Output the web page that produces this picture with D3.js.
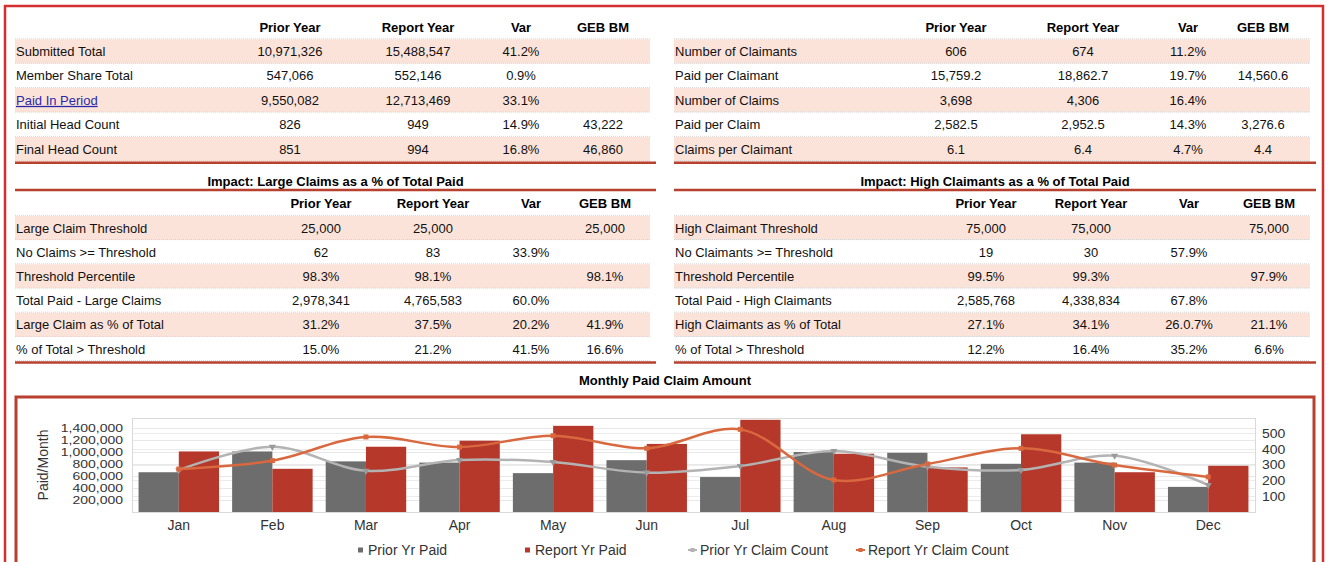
<!DOCTYPE html>
<html>
<head>
<meta charset="utf-8">
<script src="https://cdn.jsdelivr.net/npm/d3@7"></script>
<style>
  body { margin: 0; background: #fff; }
  svg { font-family: "Liberation Sans", Arial, sans-serif; display: block; }
</style>
</head>
<body>
<div id="chart"></div>
<script>
// ---- data ----
var tableHeaders = ['Prior Year', 'Report Year', 'Var', 'GEB BM'];

var summaryRows = [
    ['Submitted Total', '10,971,326', '15,488,547', '41.2%', ''],
    ['Member Share Total', '547,066', '552,146', '0.9%', ''],
    ['Paid In Period', '9,550,082', '12,713,469', '33.1%', ''],
    ['Initial Head Count', '826', '949', '14.9%', '43,222'],
    ['Final Head Count', '851', '994', '16.8%', '46,860']
];

var claimantRows = [
    ['Number of Claimants', '606', '674', '11.2%', ''],
    ['Paid per Claimant', '15,759.2', '18,862.7', '19.7%', '14,560.6'],
    ['Number of Claims', '3,698', '4,306', '16.4%', ''],
    ['Paid per Claim', '2,582.5', '2,952.5', '14.3%', '3,276.6'],
    ['Claims per Claimant', '6.1', '6.4', '4.7%', '4.4']
];

var largeClaimRows = [
    ['Large Claim Threshold', '25,000', '25,000', '', '25,000'],
    ['No Claims >= Threshold', '62', '83', '33.9%', ''],
    ['Threshold Percentile', '98.3%', '98.1%', '', '98.1%'],
    ['Total Paid - Large Claims', '2,978,341', '4,765,583', '60.0%', ''],
    ['Large Claim as % of Total', '31.2%', '37.5%', '20.2%', '41.9%'],
    ['% of Total > Threshold', '15.0%', '21.2%', '41.5%', '16.6%']
];

var highClaimantRows = [
    ['High Claimant Threshold', '75,000', '75,000', '', '75,000'],
    ['No Claimants >= Threshold', '19', '30', '57.9%', ''],
    ['Threshold Percentile', '99.5%', '99.3%', '', '97.9%'],
    ['Total Paid - High Claimants', '2,585,768', '4,338,834', '67.8%', ''],
    ['High Claimants as % of Total', '27.1%', '34.1%', '26.0.7%', '21.1%'],
    ['% of Total > Threshold', '12.2%', '16.4%', '35.2%', '6.6%']
];

var months = ['Jan', 'Feb', 'Mar', 'Apr', 'May', 'Jun', 'Jul', 'Aug', 'Sep', 'Oct', 'Nov', 'Dec'];
var priorPaid = [660000, 1005000, 840000, 820000, 645000, 860000, 580000, 995000, 983000, 800000, 820000, 417000];
var reportPaid = [1005000, 717000, 1083000, 1183000, 1430000, 1130000, 1530000, 967000, 740000, 1290000, 660000, 767000];
var priorCount = [265, 413, 261, 329, 316, 249, 291, 386, 287, 266, 356, 171];
var reportCount = [272, 325, 475, 411, 483, 403, 523, 203, 304, 403, 297, 222];
var paidTicks = [200000, 400000, 600000, 800000, 1000000, 1200000, 1400000];
var countTicks = [100, 200, 300, 400, 500];
var legendLabels = ['Prior Yr Paid', 'Report Yr Paid', 'Prior Yr Claim Count', 'Report Yr Claim Count'];

// ---- colours ----
var pink = '#fce3da',
    tableRed = '#b8402f',
    borderRed = '#d32f2f',
    barGrey = '#6d6d6d',
    barRed = '#b5382a',
    lineGrey = '#b3b3b3',
    lineOrange = '#d9683f';

var svg = d3.select('#chart').append('svg')
    .attr('width', 1330)
    .attr('height', 562);

// outer frame
svg.append('rect')
    .attr('x', 5).attr('y', 6)
    .attr('width', 1318).attr('height', 620)
    .attr('fill', 'none')
    .attr('stroke', borderRed)
    .attr('stroke-width', 2.5);

// draws one striped table
function drawTable(opt) {
    var g = svg.append('g');
    var rowH = opt.rowH;

    // stripes
    g.selectAll('rect.stripe')
        .data(opt.rows)
        .enter().append('rect')
        .attr('x', opt.x0)
        .attr('y', function (d, i) { return opt.rowY + i * rowH - rowH / 2; })
        .attr('width', opt.x1 - opt.x0)
        .attr('height', rowH)
        .attr('fill', function (d, i) { return i % 2 === 0 ? pink : '#fff'; });

    // dotted separators
    g.selectAll('line.sep')
        .data(d3.range(opt.rows.length + 1))
        .enter().append('line')
        .attr('x1', opt.x0).attr('x2', opt.x1)
        .attr('y1', function (i) { return opt.rowY + i * rowH - rowH / 2 - 0.5; })
        .attr('y2', function (i) { return opt.rowY + i * rowH - rowH / 2 - 0.5; })
        .attr('stroke', '#d6d6d6')
        .attr('stroke-dasharray', '1,1');

    // title
    if (opt.title) {
        g.append('text')
            .attr('x', (opt.x0 + opt.lineX1) / 2)
            .attr('y', opt.titleY)
            .attr('dy', '0.35em')
            .attr('text-anchor', 'middle')
            .style('font-size', '13px')
            .style('font-weight', 'bold')
            .text(opt.title);
        g.append('line')
            .attr('x1', opt.x0).attr('x2', opt.lineX1)
            .attr('y1', opt.titleY + 9).attr('y2', opt.titleY + 9)
            .attr('stroke', tableRed).attr('stroke-width', 2.5);
    }

    // header
    g.selectAll('text.head')
        .data(tableHeaders)
        .enter().append('text')
        .attr('x', function (d, i) { return opt.cols[i]; })
        .attr('y', opt.headY)
        .attr('dy', '0.35em')
        .attr('text-anchor', 'middle')
        .style('font-size', '13px')
        .style('font-weight', 'bold')
        .text(function (d) { return d; });

    // rows
    var row = g.selectAll('g.row')
        .data(opt.rows)
        .enter().append('g')
        .attr('transform', function (d, i) { return 'translate(0,' + (opt.rowY + i * rowH) + ')'; });

    row.append('text')
        .attr('x', opt.x0 + 1)
        .attr('dy', '0.35em')
        .style('font-size', '13px')
        .attr('fill', function (d) { return d[0] === opt.link ? '#2a2aa8' : '#111'; })
        .attr('text-decoration', function (d) { return d[0] === opt.link ? 'underline' : null; })
        .text(function (d) { return d[0]; });

    row.selectAll('text.val')
        .data(function (d) { return d.slice(1); })
        .enter().append('text')
        .attr('x', function (d, i) { return opt.cols[i]; })
        .attr('dy', '0.35em')
        .attr('text-anchor', 'middle')
        .style('font-size', '13px')
        .attr('fill', '#111')
        .text(function (d) { return d; });

    // bottom rule
    var yb = opt.rowY + opt.rows.length * rowH - rowH / 2 + 1.5;
    g.append('line')
        .attr('x1', opt.x0).attr('x2', opt.lineX1)
        .attr('y1', yb).attr('y2', yb)
        .attr('stroke', tableRed).attr('stroke-width', 2.5);
}

drawTable({x0: 15, x1: 650, lineX1: 656, cols: [290, 418, 521, 603],
    headY: 27, rowY: 51.5, rowH: 24.4, rows: summaryRows, link: 'Paid In Period'});
drawTable({x0: 674, x1: 1310, lineX1: 1316, cols: [956, 1083, 1188, 1263],
    headY: 27, rowY: 51.5, rowH: 24.4, rows: claimantRows});
drawTable({x0: 15, x1: 650, lineX1: 656, cols: [321, 433, 531, 605],
    title: 'Impact: Large Claims as a % of Total Paid', titleY: 181,
    headY: 203, rowY: 228, rowH: 24.2, rows: largeClaimRows});
drawTable({x0: 674, x1: 1310, lineX1: 1316, cols: [986, 1091, 1189, 1269],
    title: 'Impact: High Claimants as a % of Total Paid', titleY: 181,
    headY: 203, rowY: 228, rowH: 24.2, rows: highClaimantRows});

// ---- chart ----
svg.append('text')
    .attr('x', 665).attr('y', 380)
    .attr('dy', '0.35em')
    .attr('text-anchor', 'middle')
    .style('font-size', '13px')
    .style('font-weight', 'bold')
    .text('Monthly Paid Claim Amount');

svg.append('rect')
    .attr('x', 16).attr('y', 397)
    .attr('width', 1298).attr('height', 220)
    .attr('fill', 'none')
    .attr('stroke', tableRed)
    .attr('stroke-width', 3);

var plot = {left: 132, right: 1255, top: 418, bottom: 512};

var x = d3.scaleBand().domain(months).range([plot.left, plot.right]).paddingInner(0.14).paddingOuter(0.07);
var xSub = d3.scaleBand().domain(['prior', 'report']).range([0, x.bandwidth()]);
var yPaid = d3.scaleLinear().domain([0, 1560000]).range([plot.bottom, plot.top]);
var yCount = d3.scaleLinear().domain([0, 595]).range([plot.bottom, plot.top]);

// gridlines
var grid = svg.append('g');
grid.selectAll('line.gl')
    .data(paidTicks)
    .enter().append('line')
    .attr('x1', plot.left).attr('x2', plot.right)
    .attr('y1', function (d) { return Math.round(yPaid(d)) + 0.5; })
    .attr('y2', function (d) { return Math.round(yPaid(d)) + 0.5; })
    .attr('stroke', '#e8e8e8');
grid.selectAll('line.gr')
    .data(countTicks)
    .enter().append('line')
    .attr('x1', plot.left).attr('x2', plot.right)
    .attr('y1', function (d) { return Math.round(yCount(d)) + 0.5; })
    .attr('y2', function (d) { return Math.round(yCount(d)) + 0.5; })
    .attr('stroke', '#ececec');

svg.append('rect')
    .attr('x', plot.left + 0.5).attr('y', plot.top + 0.5)
    .attr('width', plot.right - plot.left).attr('height', plot.bottom - plot.top)
    .attr('fill', 'none')
    .attr('stroke', '#d9d9d9');

// bars
var monthG = svg.selectAll('g.month')
    .data(months)
    .enter().append('g')
    .attr('transform', function (d) { return 'translate(' + x(d) + ',0)'; });

monthG.append('rect')
    .attr('x', xSub('prior'))
    .attr('y', function (d, i) { return yPaid(priorPaid[i]); })
    .attr('width', xSub.bandwidth())
    .attr('height', function (d, i) { return yPaid(0) - yPaid(priorPaid[i]); })
    .attr('fill', barGrey);

monthG.append('rect')
    .attr('x', xSub('report'))
    .attr('y', function (d, i) { return yPaid(reportPaid[i]); })
    .attr('width', xSub.bandwidth())
    .attr('height', function (d, i) { return yPaid(0) - yPaid(reportPaid[i]); })
    .attr('fill', barRed);

// claim count lines
function cx(i) { return x(months[i]) + x.bandwidth() / 2; }

var countLine = d3.line()
    .x(function (d, i) { return cx(i); })
    .y(function (d) { return yCount(d); })
    .curve(d3.curveCatmullRom.alpha(0.5));

svg.append('path')
    .datum(priorCount)
    .attr('d', countLine)
    .attr('fill', 'none')
    .attr('stroke', lineGrey)
    .attr('stroke-width', 2.5);

svg.append('path')
    .datum(reportCount)
    .attr('d', countLine)
    .attr('fill', 'none')
    .attr('stroke', lineOrange)
    .attr('stroke-width', 2.5);

svg.selectAll('path.tri')
    .data(priorCount)
    .enter().append('path')
    .attr('d', d3.symbol().type(d3.symbolTriangle).size(22))
    .attr('transform', function (d, i) { return 'translate(' + cx(i) + ',' + yCount(d) + ') rotate(180)'; })
    .attr('fill', '#9a9a9a');

svg.selectAll('rect.sq')
    .data(reportCount)
    .enter().append('rect')
    .attr('x', function (d, i) { return cx(i) - 2.5; })
    .attr('y', function (d) { return yCount(d) - 2.5; })
    .attr('width', 5).attr('height', 5)
    .attr('fill', lineOrange);

// axes
var leftAxis = svg.append('g')
    .attr('transform', 'translate(' + plot.left + ',0)')
    .call(d3.axisLeft(yPaid).tickValues(paidTicks).tickSize(0).tickPadding(9).tickFormat(d3.format(',')));
leftAxis.select('.domain').remove();
// labels are squeezed vertically in the original so they just fit the 200k spacing
leftAxis.selectAll('text')
    .style('font-size', '14px')
    .attr('fill', '#333')
    .attr('font-family', null)
    .attr('dy', '0.36em')
    .attr('transform', 'scale(1,0.72)');

var rightAxis = svg.append('g')
    .attr('transform', 'translate(' + plot.right + ',0)')
    .call(d3.axisRight(yCount).tickValues(countTicks).tickSize(0).tickPadding(7));
rightAxis.select('.domain').remove();
rightAxis.selectAll('text')
    .style('font-size', '14px')
    .attr('fill', '#333')
    .attr('font-family', null)
    .attr('dy', '0.36em')
    .attr('transform', 'scale(1,0.85)');

var bottomAxis = svg.append('g')
    .attr('transform', 'translate(0,' + plot.bottom + ')')
    .call(d3.axisBottom(x).tickSize(0).tickPadding(8));
bottomAxis.select('.domain').remove();
bottomAxis.selectAll('text').style('font-size', '14px').attr('fill', '#333').attr('font-family', null);

svg.append('text')
    .attr('transform', 'translate(48,' + ((plot.top + plot.bottom) / 2) + ') rotate(-90)')
    .attr('text-anchor', 'middle')
    .style('font-size', '14px')
    .attr('fill', '#333')
    .text('Paid/Month');

// legend
var legendX = [358, 525, 690, 858];
var legend = svg.selectAll('g.leg')
    .data(legendLabels)
    .enter().append('g')
    .attr('transform', function (d, i) { return 'translate(' + legendX[i] + ',550)'; });

legend.each(function (d, i) {
    var g = d3.select(this);
    if (i < 2) {
        g.append('rect').attr('x', 0).attr('y', -2.5).attr('width', 5).attr('height', 5)
            .attr('fill', i === 0 ? barGrey : barRed);
    } else {
        g.append('line').attr('x1', -2).attr('x2', 7).attr('y1', 0).attr('y2', 0)
            .attr('stroke', i === 2 ? lineGrey : lineOrange).attr('stroke-width', 2);
        g.append('rect').attr('x', 0.5).attr('y', -2).attr('width', 4).attr('height', 4)
            .attr('fill', i === 2 ? lineGrey : lineOrange);
    }
    g.append('text')
        .attr('x', 10)
        .attr('dy', '0.35em')
        .style('font-size', '14px')
        .attr('fill', '#333')
        .text(d);
});
</script>
</body>
</html>
